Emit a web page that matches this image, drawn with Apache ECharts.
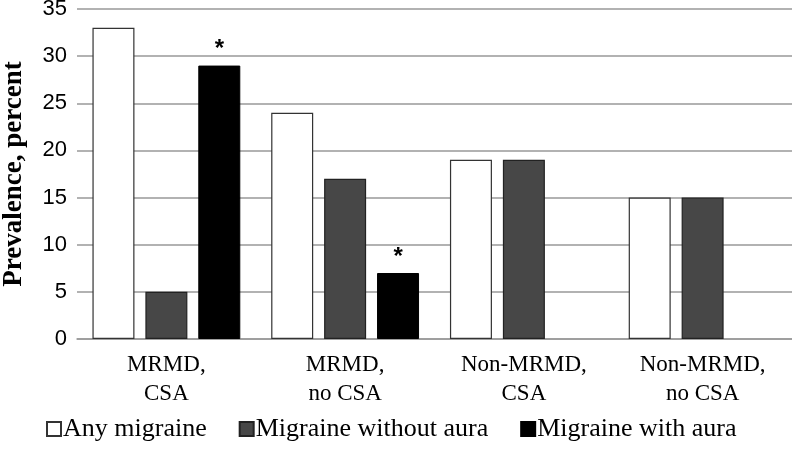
<!DOCTYPE html>
<html>
<head>
<meta charset="utf-8">
<script src="https://cdn.jsdelivr.net/npm/echarts@6/dist/echarts.min.js"></script>
<style>
  html, body { margin: 0; padding: 0; background: #fff; }
  #chart { width: 792px; height: 450px; }
</style>
</head>
<body>
<div id="chart"></div>
<script type="text/javascript">
  // data
  var categories = ['MRMD,\nCSA', 'MRMD,\nno CSA', 'Non-MRMD,\nCSA', 'Non-MRMD,\nno CSA'];
  var anyMigraine = [33, 24, 19, 15];
  var withoutAura = [5, 17, 19, 15];
  var withAura = [29, 7, null, null];
  var stars = ['*', '*', '', ''];
  var yTicks = [0, 5, 10, 15, 20, 25, 30, 35];

  var serif = '"Liberation Serif", "DejaVu Serif", serif';
  var sans = '"Liberation Sans", "DejaVu Sans", sans-serif';

  var chart = echarts.init(document.getElementById('chart'));
  chart.setOption({
    animation: false,
    grid: { left: 77, right: 0, top: 9, bottom: 111, outerBoundsMode: 'none' },
    legend: {
      bottom: 3,
      left: 41,
      itemWidth: 14,
      itemHeight: 14,
      itemGap: 32,
      icon: 'rect',
      textStyle: { fontFamily: serif, fontSize: 26, color: '#000', padding: [0, 0, 0, -3] },
      data: ['Any migraine', 'Migraine without aura', 'Migraine with aura']
    },
    xAxis: {
      type: 'category',
      data: categories,
      axisTick: { show: false },
      axisLine: { lineStyle: { color: '#999', width: 1.5 } },
      axisLabel: { interval: 0, margin: 11, fontFamily: serif, fontSize: 23, lineHeight: 29, color: '#000' }
    },
    yAxis: {
      type: 'value',
      min: yTicks[0],
      max: yTicks[yTicks.length - 1],
      interval: 5,
      name: 'Prevalence, percent',
      nameLocation: 'middle',
      nameGap: 49,
      nameTextStyle: { fontFamily: serif, fontSize: 27, fontWeight: 'bold', color: '#000' },
      axisLine: { show: false },
      axisTick: { show: false },
      axisLabel: { fontFamily: sans, fontSize: 22, color: '#000', margin: 10 },
      splitLine: { lineStyle: { color: '#999', width: 1.5 } }
    },
    series: [
      {
        name: 'Any migraine',
        type: 'bar',
        data: anyMigraine,
        barWidth: 42,
        barGap: '26%',
        itemStyle: { color: '#fff', borderColor: '#333', borderWidth: 1.2 }
      },
      {
        name: 'Migraine without aura',
        type: 'bar',
        data: withoutAura,
        barWidth: 42,
        barGap: '26%',
        itemStyle: { color: '#474747', borderColor: '#222', borderWidth: 1.2 }
      },
      {
        name: 'Migraine with aura',
        type: 'bar',
        data: withAura,
        barWidth: 42,
        barGap: '26%',
        itemStyle: { color: '#000', borderColor: '#000', borderWidth: 1 },
        label: {
          show: true,
          position: 'top',
          distance: 4,
          fontFamily: sans,
          fontSize: 24,
          fontWeight: 'bold',
          color: '#000',
          formatter: function (p) { return stars[p.dataIndex]; }
        }
      }
    ]
  });
</script>
</body>
</html>
